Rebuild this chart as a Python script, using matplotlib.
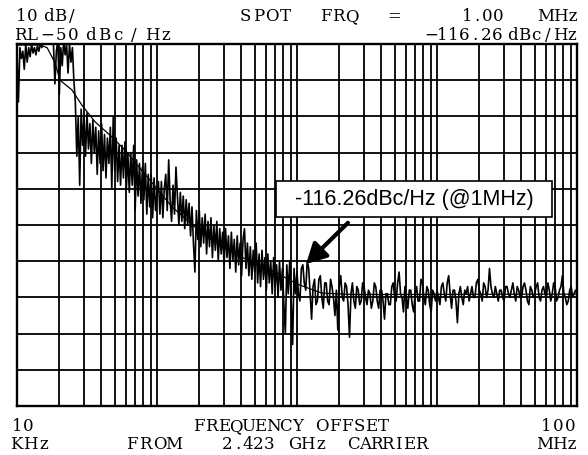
# Phase noise plot (HP 3048A style) - spot noise at 1 MHz offset
import numpy as np
import matplotlib
matplotlib.use("Agg")
import matplotlib.pyplot as plt
from matplotlib.patches import Rectangle

# sweep points inside one decade (multipliers), one list of levels per decade
sweep_mult = [1.000, 1.024, 1.049, 1.075, 1.101, 1.127, 1.155, 1.183, 1.212, 1.241,
              1.271, 1.302, 1.334, 1.366, 1.399, 1.433, 1.468, 1.504, 1.540, 1.578,
              1.616, 1.655, 1.695, 1.737, 1.778, 1.821, 1.866, 1.911, 1.957, 2.005,
              2.054, 2.104, 2.154, 2.207, 2.260, 2.315, 2.371, 2.429, 2.488, 2.548,
              2.610, 2.674, 2.738, 2.805, 2.873, 2.943, 3.014, 3.087, 3.162, 3.239,
              3.317, 3.398, 3.481, 3.565, 3.652, 3.741, 3.831, 3.924, 4.020, 4.117,
              4.217, 4.320, 4.424, 4.532, 4.642, 4.755, 4.870, 4.989, 5.109, 5.233,
              5.360, 5.491, 5.623, 5.760, 5.900, 6.043, 6.190, 6.340, 6.494, 6.652,
              6.813, 6.979, 7.149, 7.322, 7.499, 7.682, 7.868, 8.059, 8.254, 8.455,
              8.660, 8.870, 9.085, 9.306, 9.532, 9.763]
decade_start_khz = [10, 100, 1000, 10000]

# measured L(f) in dBc/Hz
noise_10k = [-52, -66, -51, -54, -52, -57, -50, -55, -51, -53.5,
             -50, -52.5, -51, -53, -50.5, -52, -50, -51, -49, -48,
             -49, -47, -48, -49, -48, -50, -61, -52, -49, -64,
             -51, -56, -49, -53, -50, -58, -50, -55, -51, -60,
             -66, -81, -70, -89, -68, -78, -70, -81, -69, -79,
             -72, -83, -71, -80, -73, -86, -74, -83, -72, -85,
             -75, -87, -76, -83, -73, -90, -70, -85, -76, -88,
             -78, -89, -78, -87, -77, -90, -80, -91, -80, -89,
             -78, -96, -82, -92, -83, -94, -84, -93, -83, -97,
             -86, -95, -86, -98, -87, -96]
noise_100k = [-91, -88, -97, -88, -98, -90, -86, -96, -82, -93,
              -99, -89, -97, -84, -92, -100, -91, -99, -92, -101,
              -93, -100, -94, -103, -95, -105, -113, -96, -104, -96,
              -106, -98, -105, -97, -108, -99, -106, -98, -109, -100,
              -107, -99, -110, -101, -108, -102, -111, -101, -109, -103,
              -112, -102, -110, -104, -113, -103, -111, -105, -114, -104,
              -101, -112, -105, -114, -106, -115, -107, -113, -105, -116,
              -108, -117, -107, -115, -109, -118, -108, -116, -110, -119,
              -109, -117, -111, -120, -110, -118, -112, -122, -130, -111,
              -119, -110, -121, -133, -112, -119]
noise_1m = [-113, -119, -121, -112, -111, -116, -118, -110, -112, -119,
            -126, -117, -115, -122, -121, -115, -114, -120, -123, -116,
            -116, -121, -122, -115, -117, -120, -125, -118, -129, -117,
            -114, -120, -121, -116, -117, -122, -131, -119, -116, -121,
            -123, -117, -118, -122, -121, -116, -117, -120, -122, -118,
            -119, -123, -121, -116, -117, -121, -123, -118, -118, -121,
            -126, -119, -119, -122, -122, -117, -116, -120, -121, -116,
            -113, -119, -120, -124, -117, -120, -123, -118, -118, -122,
            -124, -119, -117, -121, -121, -115, -116, -120, -122, -117,
            -118, -122, -124, -118, -119, -121]
noise_10m = [-118, -120, -122, -117, -116, -119, -121, -116, -114, -119,
             -123, -118, -118, -121, -127, -119, -117, -120, -122, -118,
             -119, -117, -121, -119, -117, -120, -120, -116, -115, -118,
             -119, -121, -116, -117, -120, -118, -112, -117, -119, -120,
             -117, -119, -121, -118, -118, -120, -121, -117, -117, -119,
             -120, -118, -116, -119, -121, -117, -118, -120, -120, -117,
             -116, -118, -121, -122, -117, -118, -120, -119, -117, -116,
             -120, -121, -118, -117, -119, -120, -116, -118, -121, -119,
             -116, -117, -121, -120, -118, -117, -114, -119, -120, -122,
             -121, -118, -117, -120, -119, -118]
last_khz = 100000
last_dbc = -119

# averaged (smoothed) trace
smooth_khz = [10, 14.6, 16.4, 18.7, 20.3, 24.7, 29.1, 36.1, 47.7, 59, 89, 128,
              209, 290, 446, 700, 1000, 1500, 2500, 100000]
smooth_dbc = [-50.3, -50.3, -51, -55.2, -60, -62.7, -66.9, -71.5, -75.7, -79.3,
              -87.6, -95, -102.2, -106.1, -109.7, -113, -116.3, -118.8, -119.2, -119.1]

spot_dbc = -116.26

trace_khz = []
for start in decade_start_khz:
    trace_khz += [start * m for m in sweep_mult]
trace_khz.append(last_khz)
trace_dbc = noise_10k + noise_100k + noise_1m + noise_10m + [last_dbc]

W, H = 588, 455
fig = plt.figure(figsize=(W / 100, H / 100), dpi=100)
ax = fig.add_axes([17 / W, 1 - 406 / H, 560 / W, 362 / H])

ax.plot(trace_khz, trace_dbc, color="black", lw=1.2, zorder=3)
ax.plot(smooth_khz, smooth_dbc, color="black", lw=0.9, zorder=3)

ax.set_xscale("log")
ax.set_xlim(10, 100000)
ax.set_ylim(-150, -50)
ax.set_yticks(np.arange(-150, -49, 10))
ax.grid(which="both", color="black", lw=1.3)
ax.tick_params(which="both", length=0, labelbottom=False, labelleft=False)
for s in ax.spines.values():
    s.set_linewidth(1.7)

# arrow toward the spot value
ax.annotate("", xy=(1160, -110.8), xytext=(2310, -99.4),
            arrowprops=dict(arrowstyle="-|>,head_length=0.75,head_width=0.4",
                            lw=3, color="black", mutation_scale=16,
                            shrinkA=0, shrinkB=0), zorder=5)

# label box
fig.add_artist(Rectangle((276 / W, 1 - 217 / H), 276 / W, 36 / H,
                         transform=fig.transFigure, facecolor="white",
                         edgecolor="black", lw=1.2, zorder=4))
fig.text(414 / W, 1 - 199 / H, "%.2fdBc/Hz (@1MHz)" % spot_dbc,
         ha="center", va="center", fontsize=15.5,
         family=["Liberation Sans", "DejaVu Sans"], zorder=5)


# instrument text: serif glyphs placed in fixed-width cells (plotter look)
def mono(x, y, s, adv=12.5):
    for i, ch in enumerate(s):
        fig.text((x + adv * (i + 0.5)) / W, 1 - y / H, ch, ha="center",
                 va="baseline", fontsize=12, family="DejaVu Serif")


def word(x, y, s, ha="right"):
    fig.text(x / W, 1 - y / H, s, ha=ha, va="baseline", fontsize=12,
             family="DejaVu Serif")


mono(15, 21, "10", 11.5)
mono(43, 21, "dB/", 11.5)
mono(239, 21, "SPOT", 13.2)
mono(319, 21, "FRQ", 13)
mono(388, 21, "=", 12)
mono(462, 21, "1.00", 10.2)
word(578, 21, "MHz")

mono(15, 40, "RL", 11)
mono(41, 40, "\u221250", 13)
mono(84, 40, "dBc", 13.5)
mono(129, 40, "/", 9)
mono(146, 40, "Hz", 13.5)
mono(426, 40, "\u2212116.26", 11)
mono(506, 40, "dBc/Hz", 12)

mono(12, 431, "10", 11)
mono(193, 431, "FREQUENCY", 12.3)
mono(316, 431, "OFFSET", 12.3)
mono(540, 431, "100", 12)

mono(10, 449, "KHz", 13.5)
mono(125, 449, "FROM", 13.8)
mono(222, 449, "2.423", 10.4)
mono(288, 449, "GHz", 13)
mono(348, 449, "CARRIER", 11.2)
word(577, 449, "MHz")

fig.savefig("out.png", dpi=100)
